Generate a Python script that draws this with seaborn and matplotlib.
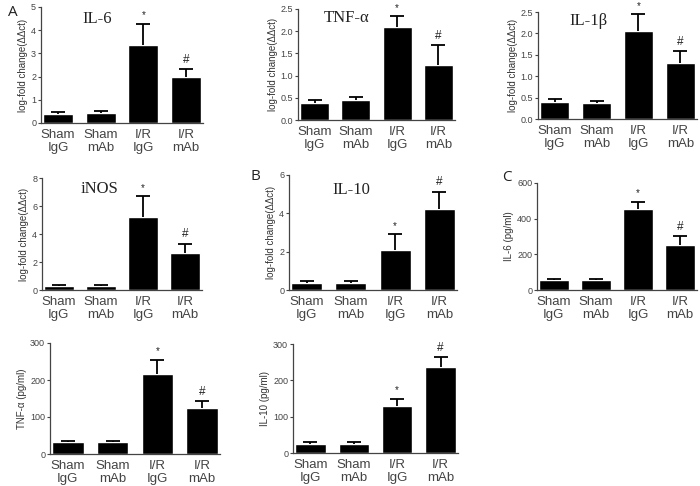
import numpy as np
import pandas as pd
import seaborn as sns
import matplotlib.pyplot as plt

groups = ["Sham\nIgG", "Sham\nmAb", "I/R\nIgG", "I/R\nmAb"]
marks = ["", "", "*", "#"]

il6_mrna = [0.37, 0.45, 3.35, 1.98]
il6_mrna_err = [0.10, 0.05, 0.92, 0.34]
tnf_mrna = [0.38, 0.44, 2.10, 1.23]
tnf_mrna_err = [0.07, 0.07, 0.24, 0.46]
il1b_mrna = [0.40, 0.37, 2.05, 1.30]
il1b_mrna_err = [0.06, 0.05, 0.40, 0.28]
inos_mrna = [0.30, 0.30, 5.20, 2.65]
inos_mrna_err = [0.05, 0.05, 1.50, 0.65]
il10_mrna = [0.38, 0.38, 2.10, 4.20]
il10_mrna_err = [0.09, 0.09, 0.82, 0.92]
il6_pg = [55, 55, 452, 253]
il6_pg_err = [5, 5, 43, 47]
tnf_pg = [33, 33, 216, 125]
tnf_pg_err = [3, 3, 39, 18]
il10_pg = [26, 26, 128, 236]
il10_pg_err = [3, 3, 22, 27]

mrna_label = "log-fold change(\u0394\u0394ct)"

sns.set_style("ticks")
plt.rcParams['font.family'] = ['Liberation Sans', 'DejaVu Sans']

fig = plt.figure(figsize=(7, 4.86), dpi=100)
W, H = 700, 486


def box(x0, x1, y0, y1):
    return [x0 / W, 1 - y1 / H, (x1 - x0) / W, (y1 - y0) / H]


def panel(rect, vals, errs, ylim, yticks, ylabel, title=None, tpos=None, fmt="{:g}"):
    ax = fig.add_axes(rect)
    df = pd.DataFrame({"group": groups, "value": vals})
    sns.barplot(data=df, x="group", y="value", color="black", width=0.7,
                saturation=1, errorbar=None, ax=ax)
    eb = ax.errorbar(range(4), vals, yerr=[[0] * 4, errs], fmt="none",
                     ecolor="black", elinewidth=1.3, capsize=4.8, capthick=1.3)
    # only the upper cap is wanted
    eb[1][0].set_visible(False)
    for i, m in enumerate(marks):
        if m:
            ax.text(i, vals[i] + errs[i] + ylim * 0.03, m, ha="center", va="bottom",
                    fontsize=7 if m == "*" else 8.5, color="#222")
    ax.set_xlim(-0.4, 3.4)
    ax.set_ylim(0, ylim)
    ax.set_yticks(yticks)
    ax.set_yticklabels([fmt.format(t) for t in yticks])
    ax.set_xlabel("")
    ax.set_ylabel(ylabel, fontsize=7, color="#333", labelpad=2)
    ax.tick_params(axis="y", labelsize=6.5, colors="#444", length=2.5, width=0.8, pad=1)
    ax.tick_params(axis="x", labelsize=9.5, colors="#444", length=0, pad=4)
    for s in ["top", "right"]:
        ax.spines[s].set_visible(False)
    for s in ["left", "bottom"]:
        ax.spines[s].set_color("#444")
        ax.spines[s].set_linewidth(0.9)
    if title:
        ax.text(tpos[0], tpos[1], title, transform=ax.transAxes, ha="center",
                va="center", fontsize=12, family="Liberation Serif", color="#222")
    return ax


panel(box(41, 203, 7, 123), il6_mrna, il6_mrna_err, 5, [0, 1, 2, 3, 4, 5],
      mrna_label, "IL-6", (0.35, 0.9))
panel(box(298, 455, 9, 120), tnf_mrna, tnf_mrna_err, 2.5, [0, 0.5, 1.0, 1.5, 2.0, 2.5],
      mrna_label, "TNF-\u03b1", (0.31, 0.92), fmt="{:.1f}")
panel(box(538, 697, 12, 119), il1b_mrna, il1b_mrna_err, 2.5, [0, 0.5, 1.0, 1.5, 2.0, 2.5],
      mrna_label, "IL-1\u03b2", (0.32, 0.92), fmt="{:.1f}")
panel(box(42, 202, 178, 290), inos_mrna, inos_mrna_err, 8, [0, 2, 4, 6, 8],
      mrna_label, "iNOS", (0.36, 0.9))
panel(box(289, 457, 175, 290), il10_mrna, il10_mrna_err, 6, [0, 2, 4, 6],
      mrna_label, "IL-10", (0.37, 0.87))
panel(box(537, 697, 183, 290), il6_pg, il6_pg_err, 600, [0, 200, 400, 600],
      "IL-6 (pg/ml)")
panel(box(50, 220, 343, 454), tnf_pg, tnf_pg_err, 300, [0, 100, 200, 300],
      "TNF-\u03b1 (pg/ml)")
panel(box(293, 458, 344, 453), il10_pg, il10_pg_err, 300, [0, 100, 200, 300],
      "IL-10 (pg/ml)")

fig.text(8 / W, 1 - 12 / H, "A", fontsize=11, family="Open Sans", color="#222", va="center")
fig.text(250 / W, 1 - 176 / H, "B", fontsize=11, family="Open Sans", color="#222", va="center")
fig.text(502 / W, 1 - 177 / H, "C", fontsize=11, family="Open Sans", color="#222", va="center")

fig.savefig("out.png", dpi=100, facecolor="white")
